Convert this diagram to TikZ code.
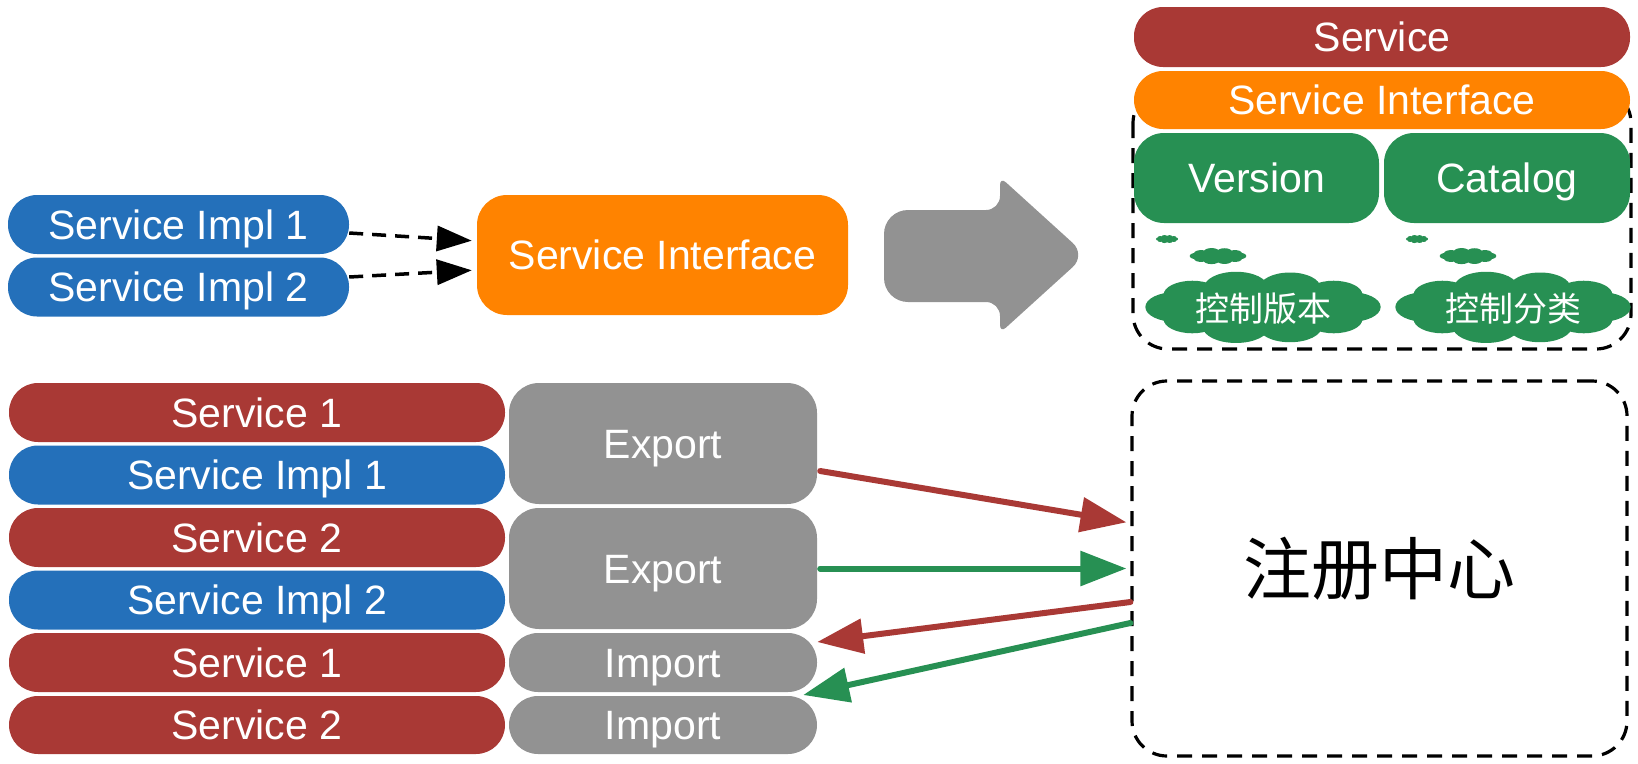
\documentclass[tikz,border=0pt]{standalone}
\usepackage{fontspec}
\setmainfont{Liberation Sans}
\newfontfamily\cjk{Noto Sans CJK SC}
\usetikzlibrary{arrows.meta,calc}
\definecolor{cred}{HTML}{A93935}
\definecolor{cblue}{HTML}{2470BA}
\definecolor{corange}{HTML}{FF8300}
\definecolor{cgreen}{HTML}{279053}
\definecolor{cgray}{HTML}{929292}
% cloud made of puffs: centre x, centre y, width, height
\newcommand\mycloud[4]{%
  \fill[cgreen] (#1,#2) ellipse [x radius={0.40*#3}, y radius={0.30*#4}];
  \foreach \a/\s in {0/1.0,36/0.95,72/1.05,108/1.1,144/0.95,180/1.0,216/0.95,252/1.05,288/1.0,324/0.95}{
    \fill[cgreen] ({#1+0.375*#3*cos(\a)},{#2+0.29*#4*sin(\a)}) ellipse [x radius={0.13*#3*\s}, y radius={0.21*#4*\s}];
  }%
}
\begin{document}
\begin{tikzpicture}[x=1pt,y=-1pt,
  box/.style={rectangle, draw=none, text=white, inner sep=0pt, font=\fontsize{41}{48}\selectfont, text height=29.4pt, text depth=0pt},
  pill/.style={box, rounded corners=29pt, minimum height=59pt},
  bigbox/.style={box, rounded corners=30pt},
  dashbox/.style={draw=black, line width=3.2pt, dash pattern=on 15pt off 10pt, rounded corners=35pt},
  dasharrow/.style={draw=black, line width=3.5pt, dash pattern=on 14pt off 9pt, -{Triangle[length=35pt,width=25pt]}},
  colarrow/.style={line width=6pt, line cap=round, -{Triangle[length=46pt,width=34pt]}},
  cloudtext/.style={inner sep=0pt, text=white, font=\cjk\fontsize{34}{40}\selectfont, text height=25.8pt, text depth=0pt}
]
\useasboundingbox (0,0) rectangle (1638,763);

% top-left
\node[pill, fill=cblue, minimum width=341pt] (ti1) at (178.5,224.5) {Service Impl 1};
\node[pill, fill=cblue, minimum width=341pt] (ti2) at (178.5,287) {Service Impl 2};
\node[bigbox, fill=corange, minimum width=371pt, minimum height=120pt] (tsi) at (662.5,255) {Service Interface};
\draw[dasharrow, shorten >=5pt] ([yshift=-8.5pt]ti1.east) -- ([yshift=14pt]tsi.west);
\draw[dasharrow, shorten >=5pt] ([yshift=10pt]ti2.east) -- ([yshift=-15pt]tsi.west);

% big gray arrow
\fill[cgray] (884,256) [rounded corners=24pt] -- (884,210) [rounded corners=14pt] -- (1000,210) [rounded corners=8pt] -- (1000,177) [rounded corners=18pt] -- (1086,255) [rounded corners=8pt] -- (1000,333) [rounded corners=14pt] -- (1000,302) [rounded corners=24pt] -- (884,302) -- cycle;

% top-right
\draw[dashbox] (1133,88) rectangle (1631,349);
\node[pill, fill=cred, minimum width=496pt, minimum height=60pt] (rsv) at (1382,37) {Service};
\node[pill, fill=corange, minimum width=496pt, minimum height=58pt] (rsi) at (1382,100) {Service Interface};
\node[bigbox, fill=cgreen, minimum width=245pt, minimum height=90pt] (ver) at (1256.5,178) {Version};
\node[bigbox, fill=cgreen, minimum width=246pt, minimum height=90pt] (cat) at (1507,178) {Catalog};
\mycloud{1167}{239}{22}{8}
\mycloud{1218}{256}{56}{16}
\mycloud{1263}{307}{233}{71}
\node[cloudtext] (vc) at (1263,309) {控制版本};
\mycloud{1417}{239}{22}{8}
\mycloud{1468}{256}{56}{16}
\mycloud{1513}{307}{233}{71}
\node[cloudtext] (cc) at (1513,309) {控制分类};

% bottom-left stack
\node[pill, fill=cred, minimum width=496pt] (s1) at (257,412.5) {Service 1};
\node[pill, fill=cblue, minimum width=496pt] (i1) at (257,475) {Service Impl 1};
\node[pill, fill=cred, minimum width=496pt] (s2) at (257,537.5) {Service 2};
\node[pill, fill=cblue, minimum width=496pt] (i2) at (257,600) {Service Impl 2};
\node[pill, fill=cred, minimum width=496pt] (s3) at (257,662.5) {Service 1};
\node[pill, fill=cred, minimum width=496pt, minimum height=58pt] (s4) at (257,725) {Service 2};
\node[bigbox, fill=cgray, minimum width=308pt, minimum height=121pt] (ex1) at (663,443.5) {Export};
\node[bigbox, fill=cgray, minimum width=308pt, minimum height=121pt] (ex2) at (663,568.5) {Export};
\node[pill, fill=cgray, minimum width=308pt] (im1) at (663,662.5) {Import};
\node[pill, fill=cgray, minimum width=308pt, minimum height=58pt] (im2) at (663,725) {Import};

% registry
\node[dashbox, rectangle, minimum width=495pt, minimum height=375pt, inner sep=0pt, font=\cjk\fontsize{68}{74}\selectfont, text height=51.7pt, text depth=0pt] (reg) at (1379.5,568.5) {注册中心};

% colored arrows
\draw[colarrow, cred, shorten >=4pt] ([xshift=3pt,yshift=-27.5pt]ex1.east) -- ([yshift=45.5pt]reg.west);
\draw[colarrow, cgreen, shorten >=4pt] ([xshift=3pt]ex2.east) -- (reg.west);
\draw[colarrow, cred] ([yshift=-33.5pt]reg.west) -- ([yshift=20.5pt]im1.east);
\draw[colarrow, cgreen] ([yshift=-54.5pt]reg.west) -- ([xshift=-14pt,yshift=-32.5pt]im1.east);
\end{tikzpicture}
\end{document}
